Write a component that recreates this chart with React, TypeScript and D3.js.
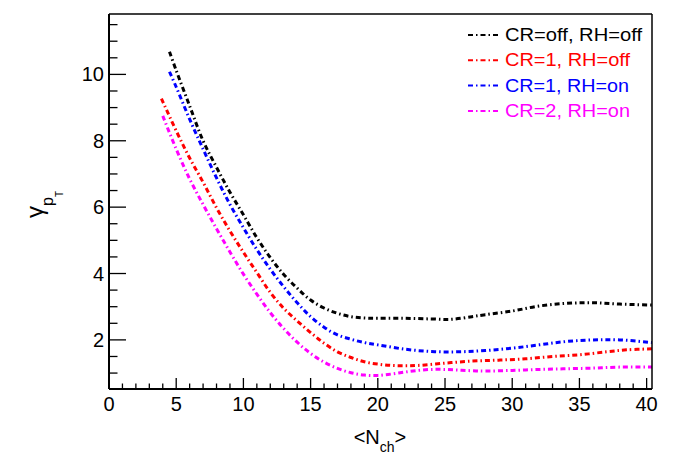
import * as d3 from "d3";

const W = 678;
const H = 471;

// frame in pixels
const margin = { left: 109, right: 26, top: 14, bottom: 82 };

const xDomain: [number, number] = [0, 40.4];
const yDomain: [number, number] = [0.52, 11.82];

const xMajor = [0, 5, 10, 15, 20, 25, 30, 35, 40];
const yMajor = [2, 4, 6, 8, 10];

// CR=off, RH=off
const xBlack = [4.5, 5, 6, 7, 8, 9, 10, 11, 12, 13, 14, 15, 16, 17, 18, 19, 20, 22, 24, 25.5, 27, 28, 30, 32, 34, 36, 38, 40.4];
const yBlack = [10.68, 10.12, 9.05, 8.0, 7.2, 6.45, 5.77, 5.08, 4.48, 3.97, 3.56, 3.2, 2.96, 2.8, 2.7, 2.66, 2.65, 2.65, 2.63, 2.62, 2.7, 2.76, 2.87, 3.02, 3.1, 3.12, 3.08, 3.05];

// CR=1, RH=off
const xRed = [3.9, 5, 6, 7, 8, 9, 10, 11, 12, 13, 14, 15, 16, 17, 18, 19, 20, 21, 22, 23, 25, 27, 29, 31, 33, 35, 37, 38.5, 40.4];
const yRed = [9.27, 8.3, 7.48, 6.75, 5.98, 5.28, 4.64, 4.03, 3.43, 2.95, 2.57, 2.22, 1.9, 1.64, 1.47, 1.34, 1.27, 1.23, 1.22, 1.23, 1.3, 1.36, 1.39, 1.43, 1.5, 1.55, 1.64, 1.7, 1.73];

// CR=1, RH=on
const xBlue = [4.5, 5, 6, 7, 8, 9, 10, 11, 12, 13, 14, 15, 16, 17, 18, 19, 20, 22, 24, 26, 28, 30, 32, 34, 36, 38, 40.4];
const yBlue = [10.08, 9.62, 8.65, 7.75, 6.88, 6.08, 5.38, 4.72, 4.13, 3.6, 3.12, 2.7, 2.38, 2.15, 2.02, 1.92, 1.85, 1.72, 1.65, 1.64, 1.68, 1.75, 1.85, 1.95, 2.0, 2.0, 1.92];

// CR=2, RH=on
const xMagenta = [4.0, 5, 6, 7, 8, 9, 10, 11, 12, 13, 14, 15, 16, 17, 18, 19, 20, 21, 22, 23, 24, 25, 26, 27, 28, 30, 32, 34, 36, 38, 40.4];
const yMagenta = [8.75, 7.75, 6.85, 6.08, 5.35, 4.65, 3.98, 3.38, 2.82, 2.34, 1.93, 1.59, 1.33, 1.14, 1.01, 0.94, 0.93, 0.97, 1.03, 1.08, 1.11, 1.11, 1.09, 1.07, 1.06, 1.08, 1.11, 1.13, 1.15, 1.18, 1.18];

const seriesNames = ["CR=off, RH=off", "CR=1, RH=off", "CR=1, RH=on", "CR=2, RH=on"];
const seriesColors = ["#000000", "#ff0000", "#0000ff", "#ff00ff"];
const seriesX = [xBlack, xRed, xBlue, xMagenta];
const seriesY = [yBlack, yRed, yBlue, yMagenta];
const legendWidths = [137, 125, 124, 125]; // text is drawn a bit wide in the original

const FONT = "'Liberation Sans', Arial, Helvetica, sans-serif";
const DASH = "5,3,1.5,3";

export default function App() {
  const x = d3
    .scaleLinear()
    .domain(xDomain)
    .range([margin.left, W - margin.right]);
  const y = d3
    .scaleLinear()
    .domain(yDomain)
    .range([H - margin.bottom, margin.top]);

  const line = d3
    .line<[number, number]>()
    .x((d) => x(d[0]))
    .y((d) => y(d[1]))
    .curve(d3.curveCatmullRom.alpha(0.5));

  const x0 = x(xDomain[0]);
  const x1 = x(xDomain[1]);
  const y0 = y(yDomain[0]);
  const y1 = y(yDomain[1]);

  const xMinor = d3.range(0, 41, 1).filter((v) => v % 5 !== 0);
  const yMinor = d3.range(1, 12, 0.5).filter((v) => v % 2 !== 0 && v >= yDomain[0] && v <= yDomain[1]);

  return (
    <svg width={W} height={H} style={{ position: "absolute", left: 0, top: 0 }}>
      <rect x={0} y={0} width={W} height={H} fill="#fff" />

      <defs>
        <clipPath id="plotclip">
          <rect x={x0} y={y1} width={x1 - x0} height={y0 - y1} />
        </clipPath>
      </defs>
      <g clipPath="url(#plotclip)">
        {seriesX.map((xs, i) => (
          <path
            key={seriesNames[i]}
            d={line(xs.map((v, j) => [v, seriesY[i][j]] as [number, number])) || ""}
            fill="none"
            stroke={seriesColors[i]}
            strokeWidth={3}
            strokeDasharray={DASH}
          />
        ))}
      </g>

      {/* frame */}
      <line x1={x0} y1={y1} x2={x1} y2={y1} stroke="#000" strokeWidth={1.5} />
      <line x1={x1} y1={y1} x2={x1} y2={y0} stroke="#000" strokeWidth={1.5} />
      <line x1={x0} y1={y0} x2={x1} y2={y0} stroke="#000" strokeWidth={2} />
      <line x1={x0} y1={y0} x2={x0} y2={y1} stroke="#000" strokeWidth={2} />

      {/* x ticks */}
      {xMajor.map((v) => (
        <g key={"xm" + v}>
          <line x1={x(v)} y1={y0} x2={x(v)} y2={y0 - 11} stroke="#000" strokeWidth={1.3} />
          <text x={x(v)} y={411} textAnchor="middle" fontFamily={FONT} fontSize={20}>
            {v}
          </text>
        </g>
      ))}
      {xMinor.map((v) => (
        <line key={"xn" + v} x1={x(v)} y1={y0} x2={x(v)} y2={y0 - 5.5} stroke="#000" strokeWidth={1.3} />
      ))}

      {/* y ticks */}
      {yMajor.map((v) => (
        <g key={"ym" + v}>
          <line x1={x0} y1={y(v)} x2={x0 + 17} y2={y(v)} stroke="#000" strokeWidth={1.3} />
          <text x={104} y={y(v) + 7} textAnchor="end" fontFamily={FONT} fontSize={20}>
            {v}
          </text>
        </g>
      ))}
      {yMinor.map((v) => (
        <line key={"yn" + v} x1={x0} y1={y(v)} x2={x0 + 8.5} y2={y(v)} stroke="#000" strokeWidth={1.3} />
      ))}

      {/* axis titles */}
      <text x={380} y={444} textAnchor="middle" fontFamily={FONT} fontSize={20}>
        {"<N"}
        <tspan fontSize={14} dy={8}>
          ch
        </tspan>
        <tspan dy={-8}>{">"}</tspan>
      </text>
      <text transform="translate(43,218) rotate(-90)" fontFamily={FONT} fontSize={24}>
        γ
        <tspan fontSize={16} dy={10}>
          p
        </tspan>
        <tspan fontSize={10} dy={10}>
          T
        </tspan>
      </text>

      {/* legend */}
      {seriesNames.map((name, i) => (
        <g key={"lg" + name}>
          <line
            x1={468}
            x2={500}
            y1={35 + i * 25.3}
            y2={35 + i * 25.3}
            stroke={seriesColors[i]}
            strokeWidth={2}
            strokeDasharray={DASH}
          />
          <text
            x={505}
            y={41 + i * 25.3}
            fontFamily={FONT}
            fontSize={17.5}
            fill={seriesColors[i]}
            textLength={legendWidths[i]}
            lengthAdjust="spacingAndGlyphs"
          >
            {name}
          </text>
        </g>
      ))}
    </svg>
  );
}
